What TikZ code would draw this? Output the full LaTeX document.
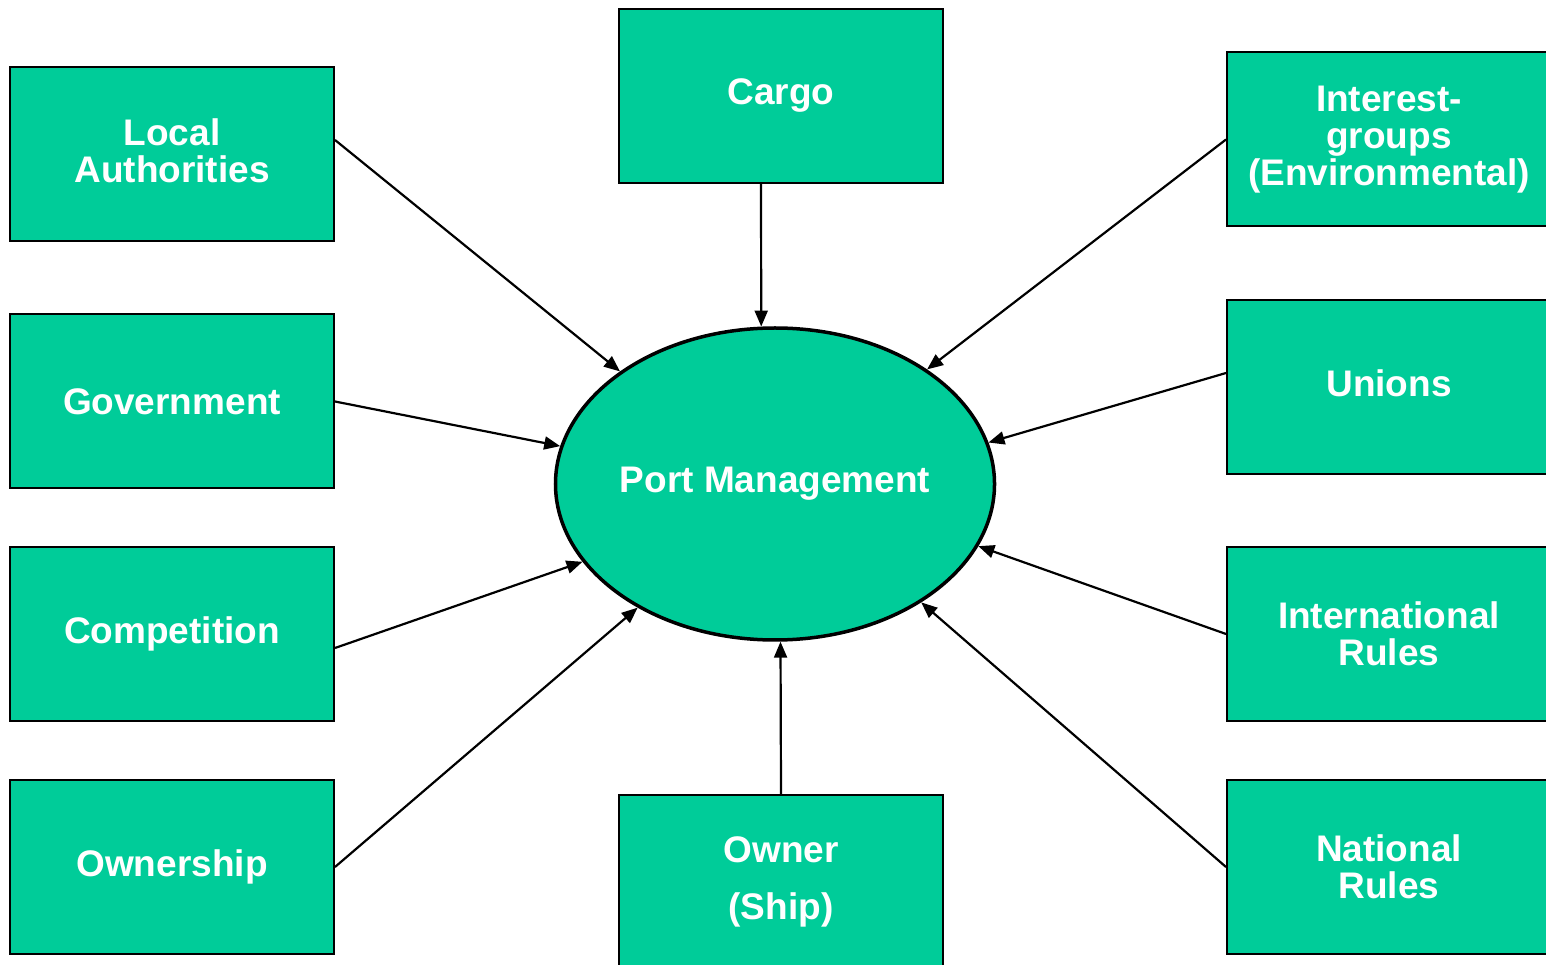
\documentclass[tikz,border=0pt]{standalone}
\usepackage{fontspec}
\setmainfont{Liberation Sans}
\usetikzlibrary{arrows.meta,calc,shapes.geometric}
\definecolor{pgreen}{HTML}{00CC99}
\begin{document}
\begin{tikzpicture}[x=1pt,y=1pt,
  box/.style={draw=black,line width=2pt,fill=pgreen,minimum width=324pt,minimum height=174pt,inner sep=0pt,text=white,font=\fontsize{37}{37}\selectfont\bfseries,align=center},
  hub/.style={ellipse,draw=black,line width=3.5pt,fill=pgreen,minimum width=436pt,minimum height=312pt,inner sep=0pt,text=white,font=\fontsize{37}{37}\selectfont\bfseries},
  conn/.style={line width=2.2pt,-{Triangle[length=16pt,width=13pt]}}]
\useasboundingbox (0,0) rectangle (1546,964);
\begin{scope}
\clip (0,0) rectangle (1546,964);
\node[box] (la) at (172,810) {Local\\Authorities\vphantom{p}};
\node[box] (gov) at (172,562.5) {Government};
\node[box] (comp) at (172,330) {Competition};
\node[box] (own) at (172,97) {Ownership};
\node[box] (cargo) at (781,868) {Cargo};
\node[box] (owner) at (781,82) {Owner\\[20pt](Ship)};
\node[box] (intg) at (1389,824.5) {Interest-\\groups\\(Environmental)};
\node[box] (unions) at (1389,577) {Unions\vphantom{p}};
\node[box] (intl) at (1389,330) {International\\Rules};
\node[box] (natl) at (1389,97) {National\\Rules};
\node[hub] (pm) at (775,480) {Port Management};
\end{scope}
\draw[conn] ($(la.east)+(0,14)$) -- (pm.144);
\draw[conn] (gov.east) -- (pm.170);
\draw[conn] ($(comp.east)+(0,-14)$) -- (pm.202);
\draw[conn] (own.east) -- (pm.222);
\draw[conn] ($(cargo.south)+(-20,0)$) -- (pm.95);
\draw[conn] (owner.north) -- (pm.272);
\draw[conn] (intg.west) -- (pm.37);
\draw[conn] ($(unions.west)+(0,14)$) -- (pm.11);
\draw[conn] (intl.west) -- (pm.-17);
\draw[conn] (natl.west) -- (pm.-39);
\end{tikzpicture}
\end{document}
